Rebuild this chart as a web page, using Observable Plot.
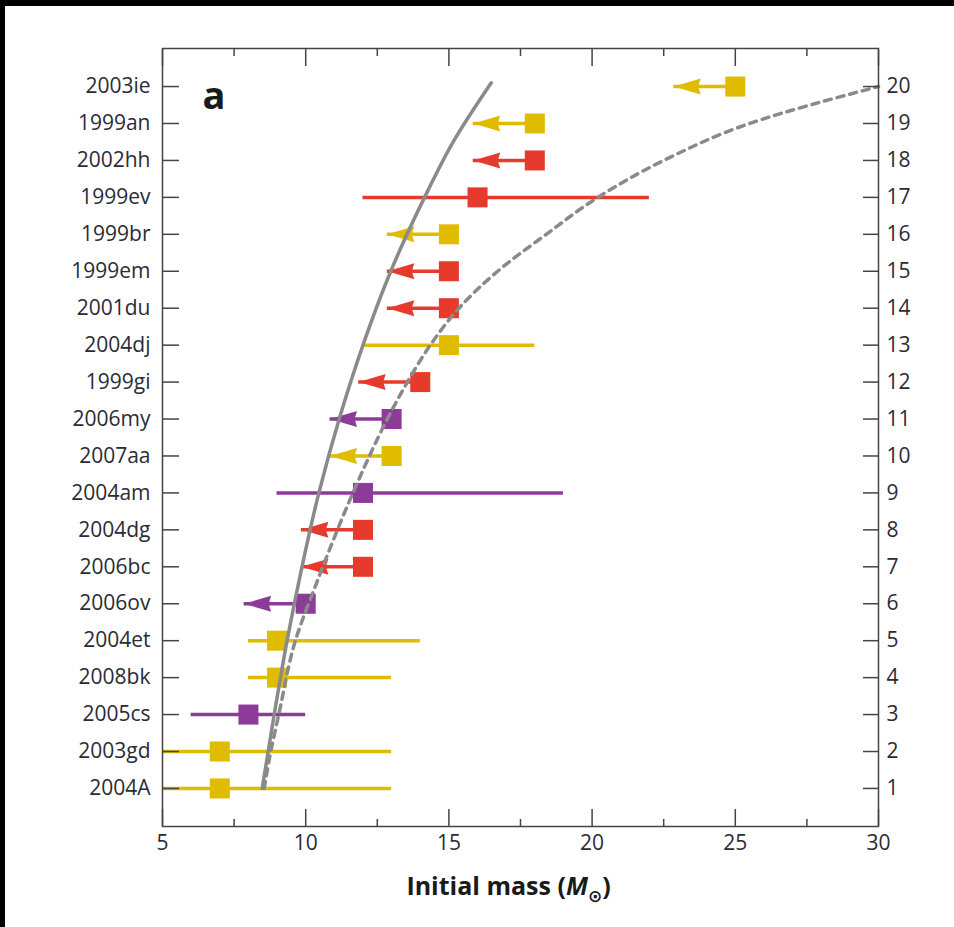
<!DOCTYPE html>
<html>
<head>
<meta charset="utf-8">
<script src="https://cdn.jsdelivr.net/npm/d3@7"></script>
<script src="https://cdn.jsdelivr.net/npm/@observablehq/plot@0.6"></script>
<style>
  html, body { margin: 0; padding: 0; background: #fff; width: 954px; height: 927px; overflow: hidden; }
  #topband { position: absolute; left: 0; top: 0; width: 954px; height: 6px; background: #000; }
  #leftband { position: absolute; left: 0; top: 0; width: 5px; height: 927px; background: #000; }
  #wrap { position: absolute; left: 5px; top: 6px; width: 949px; height: 921px; background: #fff; }
</style>
</head>
<body>
<div id="topband"></div>
<div id="leftband"></div>
<div id="wrap"></div>
<script>
// ---- Data ----
const names = ["2004A","2003gd","2005cs","2008bk","2004et","2006ov","2006bc","2004dg","2004am","2007aa",
               "2006my","1999gi","2004dj","2001du","1999em","1999br","1999ev","2002hh","1999an","2003ie"];
const rowNumbers = d3.range(1, 21);
const mass  = [7, 7, 8, 9, 9, 10, 12, 12, 12, 13, 13, 14, 15, 15, 15, 15, 16, 18, 18, 25];
const low   = [5, 5, 6, 8, 8, null, null, null, 9, null, null, null, 12, null, null, null, 12, null, null, null];
const high  = [13, 13, 10, 13, 14, null, null, null, 19, null, null, null, 18, null, null, null, 22, null, null, null];
const limitTip = [null, null, null, null, null, 7.85, 9.85, 9.85, null, 10.85, 10.85, 11.85, null, 12.85, 12.85, 12.85, null, 15.85, 15.85, 22.85];
const group = ["Y","Y","P","Y","Y","P","R","R","P","Y","P","R","Y","R","R","Y","R","R","Y","Y"];
const groupDomain = ["Y", "R", "P"];
const groupColors = ["#dfbc00", "#e63b2c", "#8c3b98"];

// solid curve (row, mass) and dashed curve (row, mass)
const solidRow  = [1, 3, 5, 7, 9, 11, 13, 15, 17, 18.5, 20.1];
const solidMass = [8.48, 8.9, 9.35, 9.87, 10.46, 11.17, 12.0, 12.97, 14.15, 15.15, 16.48];
const dashRow   = [1, 2, 3, 5, 6.5, 9, 11, 12, 13, 14, 15, 16, 17, 18, 19, 20];
const dashMass  = [8.55, 8.78, 9.06, 9.64, 10.35, 11.65, 12.85, 13.55, 14.35, 15.35, 16.7, 18.4, 20.2, 22.5, 25.5, 30];

const xMajor = [5, 10, 15, 20, 25, 30];
const xMinor = [7.5, 12.5, 17.5, 22.5, 27.5];
const xLabel = "Initial mass (M⊙)";
const panelLabel = "a";

// ---- Tables ----
const rows = names.map((n, i) => ({name: n, row: rowNumbers[i], mass: mass[i], low: low[i], high: high[i], tip: limitTip[i], group: group[i]}));
const ranged = rows.filter(d => d.low != null);
const limits = rows.filter(d => d.tip != null);
const solid = solidRow.map((r, i) => ({r, m: solidMass[i]}));
const dashed = dashRow.map((r, i) => ({r, m: dashMass[i]}));

// left-pointing filled arrowhead whose tip sits at the anchor point
const leftHead = {
  draw(ctx, size) {
    const r = Math.sqrt(size / Math.PI);
    ctx.moveTo(0, 0);
    ctx.lineTo(2.7 * r, -0.8 * r);
    ctx.lineTo(2.45 * r, 0);
    ctx.lineTo(2.7 * r, 0.8 * r);
    ctx.closePath();
  }
};

const axisColor = "#444";
const textColor = "#2b2b36";

const chart = Plot.plot({
  width: 949,
  height: 921,
  marginLeft: 157,
  marginRight: 76,
  marginTop: 42,
  marginBottom: 101,
  style: {fontFamily: "'Open Sans', sans-serif", fontSize: "21px", color: textColor, background: "#fff"},
  x: {domain: [5, 30]},
  y: {domain: [-0.03, 21.03]},
  color: {domain: groupDomain, range: groupColors},
  marks: [
    // error ranges
    Plot.ruleY(ranged, {x1: "low", x2: "high", y: "row", stroke: "group", strokeWidth: 3.5}),
    // upper limits: shaft + arrowhead
    Plot.ruleY(limits, {x1: "tip", x2: "mass", y: "row", stroke: "group", strokeWidth: 3.5}),
    Plot.dot(limits, {x: "tip", y: "row", symbol: leftHead, r: 10, fill: "group", stroke: null}),
    // squares
    Plot.dot(rows, {x: "mass", y: "row", symbol: "square", r: 11.3, fill: "group", stroke: null}),
    // curves
    Plot.line(solid, {x: "m", y: "r", stroke: "#8a8a8a", strokeWidth: 3.5, curve: "monotone-y"}),
    Plot.line(dashed, {x: "m", y: "r", stroke: "#8a8a8a", strokeWidth: 3.5, strokeDasharray: "7,6", curve: "monotone-y"}),
    // frame
    Plot.frame({stroke: axisColor, strokeWidth: 1.5}),
    // inward ticks
    Plot.axisY(rowNumbers, {anchor: "left", tickSize: 17, dx: 17, fill: "none", stroke: axisColor, strokeWidth: 1.5, label: null}),
    Plot.axisY(rowNumbers, {anchor: "right", tickSize: 16, dx: -16, fill: "none", stroke: axisColor, strokeWidth: 1.5, label: null}),
    Plot.axisX(xMajor, {anchor: "bottom", tickSize: 17, dy: -17, fill: "none", stroke: axisColor, strokeWidth: 1.5, label: null}),
    Plot.axisX(xMinor, {anchor: "bottom", tickSize: 7, dy: -7, fill: "none", stroke: axisColor, strokeWidth: 1.5, label: null}),
    Plot.axisX(xMajor, {anchor: "top", tickSize: 17, dy: 17, fill: "none", stroke: axisColor, strokeWidth: 1.5, label: null}),
    Plot.axisX(xMinor, {anchor: "top", tickSize: 7, dy: 7, fill: "none", stroke: axisColor, strokeWidth: 1.5, label: null}),
    // tick labels
    Plot.axisY(rowNumbers, {anchor: "left", tickSize: 0, tickPadding: 12, tickFormat: i => names[i - 1], stroke: "none", fill: textColor, label: null}),
    Plot.axisY(rowNumbers, {anchor: "right", tickSize: 0, tickPadding: 8, tickFormat: d => String(d), stroke: "none", fill: textColor, label: null}),
    Plot.axisX(xMajor, {anchor: "bottom", tickSize: 0, tickPadding: 9, tickFormat: d => String(d), stroke: "none", fill: textColor, label: null}),
    // panel letter
    Plot.text([panelLabel], {text: d => d, frameAnchor: "top-left", dx: 40, dy: 60, lineAnchor: "bottom", textAnchor: "start", fontSize: 38, fontWeight: "bold", fill: "#1a1a1a"}),
    // axis title
    Plot.text([xLabel], {text: d => d, frameAnchor: "bottom", dx: -12, dy: 68, lineAnchor: "bottom", textAnchor: "middle", fontSize: 25, fontWeight: "bold", fill: "#1a1a1a"})
  ]
});

document.getElementById("wrap").appendChild(chart);

// styled axis title: italic M with subscript sun symbol
d3.select(chart).selectAll("text").filter(function() { return this.textContent === xLabel; }).each(function() {
  const t = d3.select(this);
  t.text(null);
  t.append("tspan").text("Initial mass (");
  t.append("tspan").attr("font-style", "italic").text("M");
  t.append("tspan").attr("dy", 7).attr("font-size", 17).attr("font-family", "'DejaVu Sans', sans-serif").text("⊙");
  t.append("tspan").attr("dy", -7).text(")");
});
</script>
</body>
</html>
